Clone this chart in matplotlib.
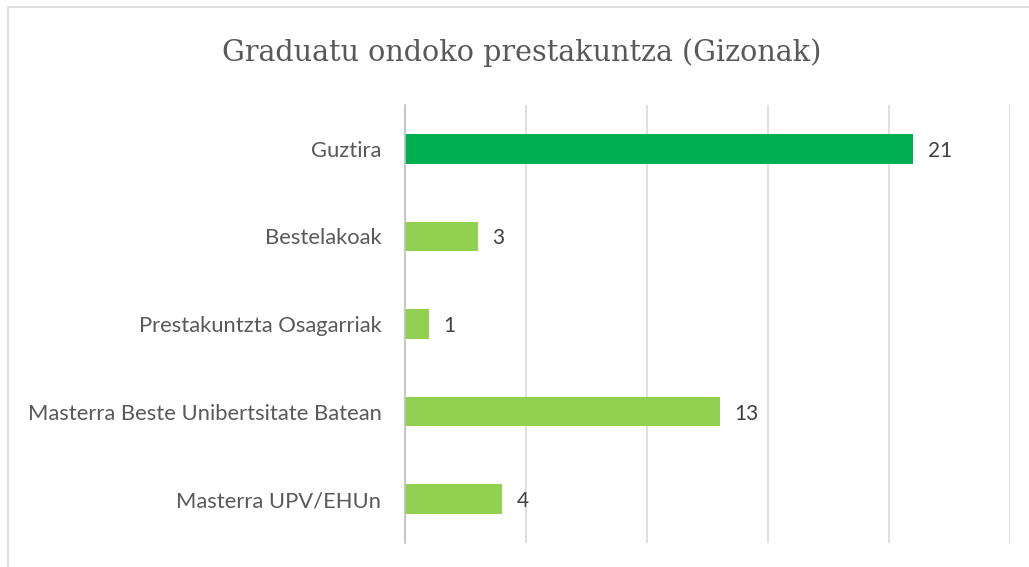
import matplotlib.pyplot as plt
from matplotlib.patches import Rectangle

# data, bottom to top
categories = ['Masterra UPV/EHUn', 'Masterra Beste Unibertsitate Batean',
              'Prestakuntzta Osagarriak', 'Bestelakoak', 'Guztira']
values = [4, 13, 1, 3, 21]
bar_colors = ['#92D050', '#92D050', '#92D050', '#92D050', '#00B050']

fig = plt.figure(figsize=(10.29, 5.67), dpi=100)
fig.patches.append(Rectangle((8 / 1029, -0.1), 1.2, (567 - 7) / 567 + 0.1,
                             transform=fig.transFigure, fill=False,
                             edgecolor='#d9d9d9', linewidth=1.2))

ax = fig.add_axes([405 / 1029, 1 - 543 / 567, 605 / 1029, 438 / 567])
pos = range(len(categories))
ax.barh(pos, values, height=0.34, color=bar_colors, zorder=3)

for i, v in enumerate(values):
    ax.text(v + 0.6, i, str(v), va='center_baseline', ha='left',
            fontsize=15, family='Lato', color='#404040')

ax.set_xlim(0, 25)
ax.set_ylim(-0.5, len(categories) - 0.5)
ax.set_xticks(range(0, 26, 5))
ax.xaxis.grid(True, color='#d9d9d9', linewidth=1.2, zorder=0)
ax.tick_params(axis='x', length=0, labelbottom=False)
ax.tick_params(axis='y', length=0, pad=17)
ax.set_yticks(list(pos))
ax.set_yticklabels(categories, fontsize=15.8, family='Lato', color='#595959')
for s in ['top', 'right', 'bottom']:
    ax.spines[s].set_visible(False)
ax.spines['left'].set_color('#bfbfbf')
ax.spines['left'].set_linewidth(1.2)
ax.spines['left'].set_zorder(4)

fig.text(522 / 1029, 1 - 53 / 567, 'Graduatu ondoko prestakuntza (Gizonak)',
         ha='center', va='center', fontsize=20.6, family='DejaVu Serif',
         color='#595959')

fig.savefig('out.png', dpi=100)
